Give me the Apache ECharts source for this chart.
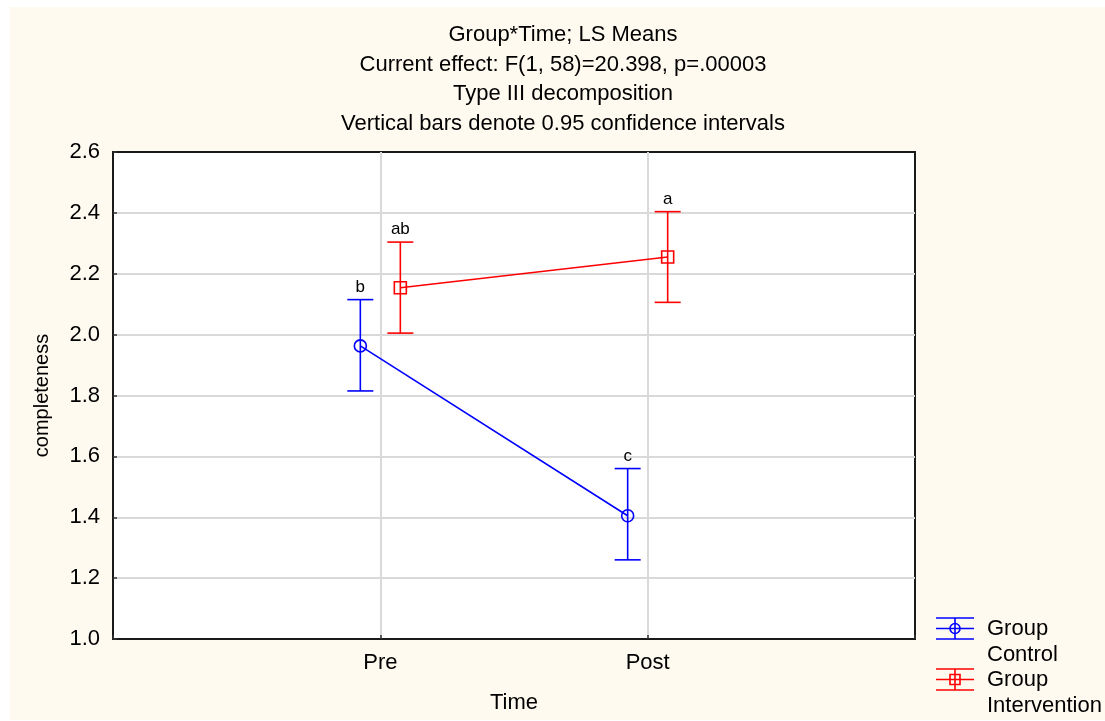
<!DOCTYPE html>
<html>
<head>
<meta charset="utf-8">
<script src="https://cdn.jsdelivr.net/npm/echarts@6/dist/echarts.min.js"></script>
<style>
html,body{margin:0;padding:0;background:#fff;}
#chart{width:1105px;height:721px;}
</style>
</head>
<body>
<div id="chart"></div>
<script>
// ---- data ----
const titleLines = ["Group*Time; LS Means", "Current effect: F(1, 58)=20.398, p=.00003", "Type III decomposition", "Vertical bars denote 0.95 confidence intervals"];
const timeLabels = ["Pre", "Post"];
const timeIndex = [1, 2];
const controlMean = [1.963, 1.405];
const controlLow = [1.815, 1.260];
const controlHigh = [2.115, 1.560];
const controlLetters = ["b", "c"];
const interventionMean = [2.154, 2.255];
const interventionLow = [2.005, 2.106];
const interventionHigh = [2.304, 2.404];
const interventionLetters = ["ab", "a"];
const yTicks = [1.0, 1.2, 1.4, 1.6, 1.8, 2.0, 2.2, 2.4, 2.6];
const legendNames = ["Group\nControl", "Group\nIntervention"];

const FONT = '"Liberation Sans", Arial, sans-serif';
const BLUE = '#0000ff', RED = '#ff0000';

function makeRender(means, letters, color, shape, off) {
  return function (params, api) {
    const i = params.dataIndex;
    const x = api.value(0);
    const p = api.coord([x, api.value(1)]);
    const lo = api.coord([x, api.value(2)]);
    const hi = api.coord([x, api.value(3)]);
    const px = p[0] + off;
    const cap = 13;
    const st = { stroke: color, lineWidth: 1.6, fill: null };
    const children = [];
    if (i < means.length - 1) {
      const n = api.coord([timeIndex[i + 1], means[i + 1]]);
      children.push({ type: 'line', shape: { x1: px, y1: p[1], x2: n[0] + off, y2: n[1] }, style: st });
    }
    children.push({ type: 'line', shape: { x1: px, y1: lo[1], x2: px, y2: hi[1] }, style: st });
    children.push({ type: 'line', shape: { x1: px - cap, y1: hi[1], x2: px + cap, y2: hi[1] }, style: st });
    children.push({ type: 'line', shape: { x1: px - cap, y1: lo[1], x2: px + cap, y2: lo[1] }, style: st });
    if (shape === 'circle') {
      children.push({ type: 'circle', shape: { cx: px, cy: p[1], r: 6 }, style: { stroke: color, lineWidth: 1.6, fill: 'rgba(0,0,0,0)' } });
    } else {
      children.push({ type: 'rect', shape: { x: px - 6, y: p[1] - 6, width: 12, height: 12 }, style: { stroke: color, lineWidth: 1.6, fill: 'rgba(0,0,0,0)' } });
    }
    children.push({ type: 'text', style: { x: px, y: hi[1] - 4, text: letters[i], textAlign: 'center', textVerticalAlign: 'bottom', fill: '#000', font: '17px ' + FONT } });
    return { type: 'group', children: children };
  };
}

function buildData(means, lows, highs) {
  return timeIndex.map((t, i) => [t, means[i], lows[i], highs[i]]);
}

function legendIcon(cy, color, shape) {
  const st = { stroke: color, lineWidth: 1.6 };
  const items = [
    { type: 'line', shape: { x1: 936, y1: cy - 10.5, x2: 974, y2: cy - 10.5 }, style: st },
    { type: 'line', shape: { x1: 936, y1: cy, x2: 974, y2: cy }, style: st },
    { type: 'line', shape: { x1: 936, y1: cy + 10.5, x2: 974, y2: cy + 10.5 }, style: st },
    { type: 'line', shape: { x1: 955, y1: cy - 10.5, x2: 955, y2: cy + 10.5 }, style: st }
  ];
  if (shape === 'circle') items.push({ type: 'circle', shape: { cx: 955, cy: cy, r: 5 }, style: { stroke: color, lineWidth: 1.6, fill: 'rgba(0,0,0,0)' } });
  else items.push({ type: 'rect', shape: { x: 950, y: cy - 5, width: 10, height: 10 }, style: { stroke: color, lineWidth: 1.6, fill: 'rgba(0,0,0,0)' } });
  return items;
}

const chart = echarts.init(document.getElementById('chart'), null, { renderer: 'canvas' });

const graphics = [
  { type: 'rect', z: -10, silent: true, shape: { x: 10, y: 7, width: 1095, height: 713 }, style: { fill: '#fffaf0' } }
];
titleLines.forEach((t, i) => {
  graphics.push({ type: 'text', x: 563, y: 35 + i * 29.5, style: { text: t, textAlign: 'center', textVerticalAlign: 'middle', fill: '#000', font: '22px ' + FONT } });
});
legendIcon(628.5, BLUE, 'circle').forEach(g => graphics.push(g));
legendIcon(679.5, RED, 'rect').forEach(g => graphics.push(g));
legendNames.forEach((n, i) => {
  graphics.push({ type: 'text', x: 987, y: 616 + i * 51, style: { text: n, textAlign: 'left', textVerticalAlign: 'top', lineHeight: 26, fill: '#000', font: '22px ' + FONT } });
});

chart.setOption({
  backgroundColor: '#ffffff',
  animation: false,
  graphic: graphics,
  grid: { left: 113, top: 152, width: 802, height: 487, show: true, backgroundColor: '#ffffff', borderColor: '#1a1a1a', borderWidth: 2, containLabel: false },
  xAxis: {
    type: 'value', min: 0, max: 3, interval: 1,
    name: 'Time', nameLocation: 'middle', nameGap: 53,
    nameTextStyle: { color: '#000', fontSize: 22, fontFamily: FONT },
    axisLine: { show: true, lineStyle: { color: '#1a1a1a', width: 2 } },
    axisTick: { show: true, inside: true, length: 4, lineStyle: { color: '#333', width: 1.5 } },
    axisLabel: { margin: 13, color: '#000', fontSize: 22, fontFamily: FONT, formatter: v => (v >= 1 && v <= timeLabels.length) ? timeLabels[v - 1] : '' },
    splitLine: { show: true, showMinLine: false, showMaxLine: false, lineStyle: { color: '#d9d9d9', width: 2 } }
  },
  yAxis: {
    type: 'value', min: yTicks[0], max: yTicks[yTicks.length - 1], interval: 0.2,
    name: 'completeness', nameLocation: 'middle', nameGap: 61, nameRotate: 90,
    nameTextStyle: { color: '#000', fontSize: 20, fontFamily: FONT },
    axisLine: { show: true, lineStyle: { color: '#1a1a1a', width: 2 } },
    axisTick: { show: true, inside: true, length: 4, lineStyle: { color: '#333', width: 1.5 } },
    axisLabel: { margin: 13, color: '#000', fontSize: 22, fontFamily: FONT, formatter: v => v.toFixed(1) },
    splitLine: { show: true, showMinLine: false, showMaxLine: false, lineStyle: { color: '#d9d9d9', width: 2 } }
  },
  series: [
    { type: 'custom', name: 'Group Control', renderItem: makeRender(controlMean, controlLetters, BLUE, 'circle', -20), encode: { x: 0, y: [1, 2, 3] }, data: buildData(controlMean, controlLow, controlHigh), z: 5 },
    { type: 'custom', name: 'Group Intervention', renderItem: makeRender(interventionMean, interventionLetters, RED, 'rect', 20), encode: { x: 0, y: [1, 2, 3] }, data: buildData(interventionMean, interventionLow, interventionHigh), z: 6 }
  ]
});
</script>
</body>
</html>
